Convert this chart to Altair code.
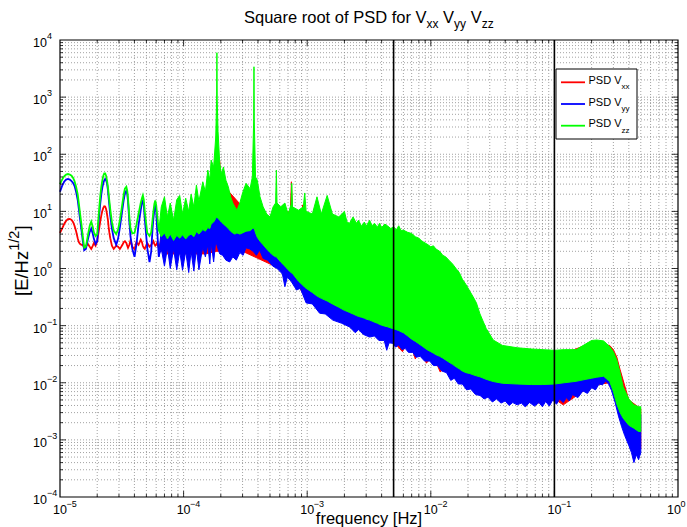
import altair as alt
import pandas as pd

W, H = 618, 457
FONT = "Liberation Sans"

# ---------------- data ----------------
# smooth low-frequency part (same frequencies for all three series)
s_f = [1.0e-5, 1.04e-5, 1.08e-5, 1.12e-5, 1.16e-5, 1.20e-5, 1.24e-5, 1.28e-5, 1.31e-5, 1.35e-5,
       1.39e-5, 1.42e-5, 1.45e-5, 1.49e-5, 1.53e-5, 1.57e-5, 1.62e-5, 1.68e-5, 1.74e-5, 1.79e-5,
       1.84e-5, 1.88e-5, 1.94e-5, 2.0e-5, 2.04e-5, 2.08e-5, 2.12e-5, 2.16e-5, 2.2e-5, 2.24e-5,
       2.28e-5, 2.32e-5, 2.36e-5, 2.40e-5, 2.44e-5, 2.47e-5, 2.51e-5, 2.55e-5, 2.63e-5, 2.72e-5,
       2.85e-5, 2.95e-5, 3.05e-5, 3.13e-5, 3.2e-5, 3.28e-5, 3.35e-5, 3.44e-5, 3.5e-5, 3.55e-5,
       3.64e-5, 3.72e-5, 3.85e-5, 4.01e-5, 4.15e-5, 4.32e-5, 4.5e-5, 4.6e-5, 4.68e-5, 4.76e-5,
       4.85e-5, 5.08e-5, 5.3e-5, 5.47e-5, 5.6e-5, 5.7e-5, 5.8e-5, 5.9e-5, 6.0e-5, 6.1e-5, 6.3e-5]
green_s = [30, 36, 41, 44, 45, 44, 42, 38, 34, 27,
           20, 14, 9.5, 6, 3.6, 2.3, 2.4, 3.8, 5.6, 6.6,
           5.4, 4.3, 3.7, 4.0, 7, 12, 19, 27, 35, 42,
           46, 46, 42, 35, 27, 21, 15, 11, 6.5, 4.6,
           4.0, 4.8, 7, 10, 14, 20, 25, 27, 23, 17,
           8, 5, 4.1, 4.2, 5.8, 9, 14, 17, 19, 16,
           10, 4.2, 3.7, 4.3, 7, 10, 13.5, 15.5, 13, 9, 4.5]
blue_s = [22, 28, 33, 36, 37, 36, 34, 31, 28, 22,
          16, 11, 7.5, 4.8, 3.0, 2.1, 2.2, 3.2, 4.4, 5.0,
          4.1, 3.3, 2.7, 3.0, 5.5, 9, 14, 20, 26, 31,
          35, 37, 35, 31, 24, 18, 12.5, 8.5, 5, 3.4,
          2.6, 3.3, 5.2, 7.8, 11, 16, 20.5, 23, 20, 15,
          6.5, 3.6, 2.2, 1.6, 2.6, 5.8, 10.5, 14, 16, 13,
          7.5, 2.3, 1.3, 2.0, 4.8, 7.5, 10.5, 13, 10.5, 5, 1.6]
red_s = [4.2, 5.0, 6.0, 6.8, 7.3, 7.4, 7.1, 6.4, 5.6, 4.5,
         3.4, 2.9, 2.7, 2.6, 2.6, 2.3, 2.5, 2.7, 2.4, 2.2,
         2.5, 2.8, 2.5, 3.0, 4.0, 5.2, 6.8, 8.5, 10.2, 11.5,
         12.3, 12.2, 11, 9, 7.2, 5.5, 4.2, 3.4, 2.5, 2.2,
         2.5, 2.4, 2.2, 2.4, 2.6, 2.9, 3.0, 2.8, 2.5, 2.3,
         2.6, 3.1, 2.4, 2.2, 2.9, 2.6, 3.2, 2.9, 2.5, 2.3,
         2.2, 2.8, 2.4, 2.6, 2.8, 3.0, 2.7, 2.5, 2.6, 2.8, 2.3]

# noisy part: envelopes (low / high) of the dense oscillations
g_f = [6.3e-5, 6.6e-5, 7.0e-5, 7.4e-5, 7.8e-5, 8.3e-5, 8.8e-5, 9.3e-5, 9.8e-5, 1.04e-4,
       1.10e-4, 1.15e-4, 1.21e-4, 1.27e-4, 1.33e-4, 1.43e-4, 1.50e-4, 1.57e-4, 1.63e-4, 1.67e-4,
       1.75e-4, 1.82e-4, 1.85e-4, 1.86e-4, 1.87e-4, 1.90e-4, 1.96e-4, 2.02e-4, 2.10e-4, 2.20e-4,
       2.30e-4, 2.40e-4, 2.50e-4, 2.60e-4, 2.70e-4, 2.85e-4, 3.0e-4, 3.2e-4, 3.45e-4, 3.6e-4,
       3.69e-4, 3.71e-4, 3.73e-4, 3.82e-4, 3.95e-4, 4.15e-4, 4.4e-4, 4.7e-4, 5.0e-4, 5.3e-4,
       5.55e-4, 5.63e-4, 5.7e-4, 6.1e-4, 6.6e-4, 7.0e-4, 7.4e-4, 7.5e-4, 7.6e-4, 8.5e-4,
       9.3e-4, 9.55e-4, 9.8e-4, 1.1e-3, 1.2e-3, 1.3e-3, 1.45e-3, 1.6e-3, 1.8e-3,
       2.0e-3, 2.1e-3, 2.2e-3, 2.35e-3, 2.5e-3, 2.6e-3, 2.75e-3, 2.9e-3, 3.0e-3, 3.2e-3,
       3.35e-3, 3.5e-3, 3.7e-3, 3.85e-3, 4.0e-3, 4.25e-3, 4.5e-3, 4.75e-3, 5.0e-3, 5.25e-3,
       5.5e-3, 5.75e-3, 6.0e-3, 6.5e-3, 7.0e-3, 7.5e-3, 8.0e-3, 8.5e-3, 9.0e-3, 9.5e-3,
       1.0e-2, 1.05e-2, 1.1e-2, 1.18e-2, 1.25e-2, 1.32e-2, 1.4e-2, 1.5e-2, 1.6e-2, 1.7e-2,
       1.8e-2, 1.93e-2, 2.07e-2, 2.2e-2, 2.34e-2,
       2.5e-2, 2.8e-2, 3.2e-2, 3.8e-2, 5.0e-2, 6.5e-2, 8.0e-2, 0.1, 0.12, 0.15,
       0.18, 0.2, 0.22, 0.25, 0.28, 0.30, 0.32, 0.34, 0.36, 0.40,
       0.44, 0.48, 0.5]
g_hi = [4.5, 12, 18, 8, 14, 7, 16, 19, 9, 17,
        10, 20, 12, 29, 15, 33, 22, 53, 35, 79,
        60, 200, 900, 6000, 900, 250, 70, 45, 60, 35,
        27, 18, 14, 12, 10.5, 14, 21, 31, 25, 40,
        400, 3400, 400, 40, 35, 18, 12, 9, 8, 12,
        14, 53, 14, 12, 14, 9, 13, 31, 12, 10.5,
        12, 21, 10, 9, 18, 9, 19, 9, 8,
        10, 6.5, 6.2, 8, 6.2, 7, 5.5, 6.5, 5.5, 7,
        5.6, 6.2, 5.3, 6.2, 5.2, 6, 5.5, 5, 5.4, 4.7,
        5.6, 4.6, 4.7, 4.3, 4.1, 3.6, 3.4, 3.0, 2.8, 2.6,
        2.4, 2.5, 2.2, 2.0, 1.7, 1.6, 1.4, 1.2, 1.0, 0.85,
        0.65, 0.52, 0.4, 0.32, 0.25,
        0.16, 0.09, 0.056, 0.045, 0.041, 0.039, 0.038, 0.037, 0.038, 0.038,
        0.048, 0.055, 0.056, 0.054, 0.043, 0.035, 0.025, 0.015, 0.0085, 0.0052,
        0.0041, 0.0038, 0.0038]
g_lo = [4.5, 3.6, 4.2, 3.3, 4.0, 3.1, 3.8, 3.4, 3.9, 3.3,
        3.8, 4.0, 3.6, 4.4, 4.0, 4.8, 4.5, 5.2, 5.0, 6.0,
        6.5, 7.5, 8, 8, 8, 7.5, 7, 6.5, 6, 5.5,
        5.0, 4.5, 4.2, 4.0, 4.2, 4.0, 4.2, 4.5, 4.6, 5.0,
        5.0, 5.0, 5.0, 4.2, 3.5, 3.0, 2.6, 2.2, 1.9, 1.7,
        1.6, 1.6, 1.55, 1.3, 1.1, 0.95, 0.85, 0.83, 0.82, 0.6,
        0.5, 0.47, 0.45, 0.38, 0.33, 0.3, 0.27, 0.24, 0.21,
        0.185, 0.178, 0.17, 0.16, 0.15, 0.145, 0.14, 0.135, 0.13, 0.125,
        0.12, 0.115, 0.11, 0.105, 0.102, 0.098, 0.095, 0.091, 0.088, 0.085,
        0.082, 0.078, 0.075, 0.066, 0.058, 0.053, 0.048, 0.044, 0.04, 0.037,
        0.035, 0.033, 0.031, 0.029, 0.027, 0.025, 0.023, 0.021, 0.019, 0.0175,
        0.016, 0.015, 0.0145, 0.0138, 0.0132,
        0.0127, 0.0115, 0.0105, 0.0098, 0.0095, 0.0093, 0.0093, 0.0095, 0.01, 0.0106,
        0.0115, 0.012, 0.0125, 0.013, 0.0105, 0.007, 0.0042, 0.003, 0.0024, 0.0018,
        0.0016, 0.0014, 0.0014]

b_f = [6.3e-5, 6.6e-5, 7.0e-5, 7.4e-5, 7.8e-5, 8.3e-5, 8.8e-5, 9.3e-5, 9.8e-5, 1.04e-4,
       1.10e-4, 1.15e-4, 1.21e-4, 1.27e-4, 1.33e-4, 1.43e-4, 1.50e-4, 1.57e-4, 1.63e-4, 1.67e-4,
       1.75e-4, 1.82e-4, 1.90e-4, 1.96e-4, 2.07e-4, 2.2e-4, 2.36e-4, 2.5e-4, 2.67e-4, 2.85e-4,
       3.03e-4, 3.2e-4, 3.42e-4, 3.65e-4, 3.88e-4, 4.12e-4, 4.4e-4, 4.8e-4, 5.27e-4, 5.7e-4,
       6.0e-4, 6.3e-4, 6.6e-4, 6.9e-4, 7.4e-4, 8.2e-4, 8.8e-4, 9.8e-4, 1.1e-3, 1.26e-3,
       1.4e-3, 1.61e-3, 1.9e-3,
       2.2e-3, 2.45e-3, 2.6e-3, 2.85e-3, 3.2e-3, 3.5e-3, 3.8e-3, 4.2e-3, 4.4e-3, 4.6e-3,
       4.9e-3, 5.2e-3, 5.5e-3, 5.85e-3, 6.2e-3, 6.6e-3, 7.15e-3, 7.6e-3, 8.2e-3, 8.9e-3,
       9.8e-3, 1.05e-2, 1.13e-2, 1.23e-2, 1.34e-2, 1.45e-2, 1.55e-2, 1.67e-2, 1.8e-2, 1.95e-2,
       2.1e-2, 2.3e-2, 2.5e-2, 2.7e-2, 2.9e-2, 3.15e-2, 3.4e-2, 3.7e-2, 4.0e-2, 4.3e-2,
       4.6e-2, 5.0e-2, 5.4e-2, 5.8e-2, 6.3e-2, 6.9e-2, 7.5e-2, 8.0e-2, 8.5e-2, 9.1e-2,
       9.7e-2, 0.104, 0.11, 0.118, 0.125, 0.132, 0.14, 0.155, 0.17, 0.185,
       0.2, 0.215, 0.23, 0.245, 0.26, 0.275, 0.29, 0.31, 0.33, 0.35,
       0.37, 0.40, 0.42, 0.44, 0.46, 0.48, 0.5]
b_lo = [1.6, 2.2, 1.1, 2.3, 1.0, 2.2, 0.95, 2.0, 0.93, 2.0,
        0.85, 2.0, 0.9, 2.2, 0.95, 2.4, 1.6, 2.6, 1.2, 2.8,
        1.3, 3.0, 2.2, 1.8, 1.7, 1.4, 1.3, 1.6, 1.4, 1.9,
        1.7, 2.3, 2.2, 2.0, 1.7, 2.1, 1.5, 1.4, 1.1, 1.0,
        0.9, 0.8, 0.48, 0.7, 0.6, 0.42, 0.45, 0.25, 0.24, 0.165,
        0.16, 0.125, 0.11,
        0.095, 0.075, 0.085, 0.07, 0.063, 0.066, 0.055, 0.055, 0.037, 0.05,
        0.049, 0.042, 0.046, 0.038, 0.04, 0.034, 0.034, 0.028, 0.029, 0.024,
        0.024, 0.02, 0.02, 0.016, 0.015, 0.011, 0.012, 0.0095, 0.0095, 0.0075,
        0.0078, 0.0062, 0.006, 0.0052, 0.0056, 0.0046, 0.0052, 0.0044, 0.0048, 0.004,
        0.0045, 0.0041, 0.0044, 0.0038, 0.0045, 0.0039, 0.0045, 0.0038, 0.0047, 0.0039,
        0.005, 0.0042, 0.0052, 0.0045, 0.0055, 0.0048, 0.0062, 0.0055, 0.0072, 0.0065,
        0.0082, 0.0075, 0.0095, 0.0092, 0.0106, 0.0095, 0.0073, 0.0045, 0.0026, 0.0017,
        0.0012, 0.0008, 0.0006, 0.0004, 0.00055, 0.00045, 0.0006]
b_hi = [1.6, 5, 8, 5, 8, 5, 9, 9, 6, 8,
        6, 10, 7, 12, 8, 15, 10, 20, 12, 30,
        25, 60, 60, 30, 25, 18, 12, 9, 8, 10,
        8, 9, 10, 12, 9, 6, 5, 4.5, 3.5, 3,
        2.6, 2.4, 2.2, 2.0, 1.7, 1.4, 1.2, 1.0, 0.8, 0.65,
        0.55, 0.5, 0.4,
        0.36, 0.33, 0.3, 0.28, 0.26, 0.24, 0.22, 0.21, 0.2, 0.2,
        0.19, 0.18, 0.17, 0.16, 0.15, 0.135, 0.12, 0.11, 0.1, 0.085,
        0.075, 0.068, 0.062, 0.056, 0.05, 0.045, 0.04, 0.037, 0.034, 0.032,
        0.03, 0.028, 0.026, 0.024, 0.023, 0.022, 0.021, 0.02, 0.02, 0.019,
        0.019, 0.019, 0.019, 0.019, 0.019, 0.019, 0.019, 0.019, 0.019, 0.019,
        0.02, 0.02, 0.021, 0.021, 0.022, 0.022, 0.023, 0.024, 0.025, 0.025,
        0.026, 0.027, 0.027, 0.027, 0.026, 0.022, 0.018, 0.012, 0.0075, 0.0055,
        0.0045, 0.0035, 0.0032, 0.003, 0.0029, 0.0028, 0.0028]

r_f = [6.3e-5, 7e-5, 1e-4, 1.5e-4, 1.86e-4, 1.93e-4, 1.96e-4, 1.99e-4, 2.05e-4, 3e-4,
       5e-4, 7.3e-4, 7.45e-4, 7.6e-4, 9.0e-4, 9.2e-4, 9.4e-4, 1.5e-3, 3e-3, 5e-3,
       5.9e-3, 6.3e-3, 6.8e-3, 7.5e-3, 7.9e-3, 8.4e-3, 9.2e-3, 1.05e-2, 1.19e-2, 1.3e-2,
       2e-2, 2.5e-2, 2.8e-2, 3.2e-2, 3.8e-2, 5e-2, 7.3e-2, 0.1, 0.118, 0.2,
       0.28, 0.30, 0.32, 0.34, 0.40, 0.5]
r_lo = [2.3, 1.8, 1.8, 1.8, 2.0, 2.0, 2.0, 2.0, 2.0, 2.0,
        1.2, 0.8, 0.8, 0.8, 0.4, 0.4, 0.4, 0.16, 0.075, 0.052,
        0.035, 0.045, 0.05, 0.026, 0.038, 0.04, 0.022, 0.03, 0.0155, 0.018,
        0.012, 0.009, 0.008, 0.007, 0.006, 0.0048, 0.0044, 0.0052, 0.0041, 0.009,
        0.01, 0.007, 0.004, 0.0025, 0.001, 0.0007]
r_hi = [2.3, 6, 8, 15, 40, 45, 75, 45, 30, 12,
        8, 10, 33, 10, 8, 13, 8, 7, 5, 4,
        3.5, 3.4, 3.2, 3.0, 2.9, 2.8, 2.5, 2.0, 1.5, 1.2,
        0.3, 0.1, 0.06, 0.04, 0.032, 0.03, 0.03, 0.03, 0.032, 0.05,
        0.045, 0.038, 0.028, 0.017, 0.005, 0.0035]

v_lines = [5e-3, 1e-1]
x_exp = [-5, -4, -3, -2, -1, 0]
y_exp = [-4, -3, -2, -1, 0, 1, 2, 3, 4]
series_names = ["xx", "yy", "zz"]
series_colors = ["#ff0000", "#0000ff", "#00ff00"]

# ---------------- helpers ----------------
x_major = [10.0 ** e for e in x_exp]
y_major = [10.0 ** e for e in y_exp]
x_minor = [k * 10.0 ** e for e in x_exp[:-1] for k in range(2, 10)]
y_minor = [k * 10.0 ** e for e in y_exp[:-1] for k in range(2, 10)]

xs = alt.Scale(type="log", domain=[1e-5, 1], nice=False)
ys = alt.Scale(type="log", domain=[1e-4, 1e4], nice=False)


def X(field):
    return alt.X(f"{field}:Q", scale=xs, axis=None)


def Y(field):
    return alt.Y(f"{field}:Q", scale=ys, axis=None)


def label(s, x, y, size, align="left", angle=0, color="black"):
    kw = dict(font=FONT, fontSize=size, align=align, baseline="middle", color=color)
    if angle:
        kw["angle"] = angle
    return alt.Chart(pd.DataFrame({"s": [s]})).mark_text(**kw).encode(
        x=alt.value(x), y=alt.value(y), text="s:N")


layers = []

# grid (dotted, major + minor)
gx = pd.DataFrame({"f": [v for v in x_major + x_minor if 1e-5 < v < 1]})
gy = pd.DataFrame({"v": [v for v in y_major + y_minor if 1e-4 < v < 1e4]})
grid_style = dict(color="#8a8a8a", strokeDash=[1, 2], strokeWidth=0.8)
layers.append(alt.Chart(gx).mark_rule(**grid_style).encode(x=X("f")))
layers.append(alt.Chart(gy).mark_rule(**grid_style).encode(y=Y("v")))

# series: red, blue, green (green on top)
smooth = pd.DataFrame({"f": s_f, "red": red_s, "blue": blue_s, "green": green_s})
bands = [
    (pd.DataFrame({"f": r_f, "lo": r_lo, "hi": r_hi}), "red", series_colors[0]),
    (pd.DataFrame({"f": b_f, "lo": b_lo, "hi": b_hi}), "blue", series_colors[1]),
    (pd.DataFrame({"f": g_f, "lo": g_lo, "hi": g_hi}), "green", series_colors[2]),
]
for df, name, col in bands:
    layers.append(alt.Chart(smooth).mark_line(color=col, strokeWidth=1.8).encode(
        x=X("f"), y=Y(name)))
    layers.append(alt.Chart(df).mark_area(color=col, stroke=col, strokeWidth=1,
                                          opacity=1).encode(
        x=X("f"), y=Y("lo"), y2=alt.Y2("hi:Q")))

# vertical black lines
layers.append(alt.Chart(pd.DataFrame({"f": v_lines})).mark_rule(
    color="black", strokeWidth=1.6).encode(x=X("f")))

# inward ticks on all four sides
for vals, ln in ((x_major, 6), (x_minor, 3)):
    d = pd.DataFrame({"f": [v for v in vals if 1e-5 < v < 1]})
    layers.append(alt.Chart(d).mark_rule(color="black", strokeWidth=0.8).encode(
        x=X("f"), y=alt.value(H), y2=alt.value(H - ln)))
    layers.append(alt.Chart(d).mark_rule(color="black", strokeWidth=0.8).encode(
        x=X("f"), y=alt.value(0), y2=alt.value(ln)))
for vals, ln in ((y_major, 6), (y_minor, 3)):
    d = pd.DataFrame({"v": [v for v in vals if 1e-4 < v < 1e4]})
    layers.append(alt.Chart(d).mark_rule(color="black", strokeWidth=0.8).encode(
        y=Y("v"), x=alt.value(0), x2=alt.value(ln)))
    layers.append(alt.Chart(d).mark_rule(color="black", strokeWidth=0.8).encode(
        y=Y("v"), x=alt.value(W), x2=alt.value(W - ln)))

# frame
layers.append(alt.Chart(pd.DataFrame({"a": [0]})).mark_rect(
    fill=None, filled=False, stroke="black", strokeWidth=1.2).encode(
    x=alt.value(0), x2=alt.value(W), y=alt.value(0), y2=alt.value(H)))

# tick labels  10^e  (the last x label is nudged left so it stays inside the page)
exp_txt = [str(e).replace("-", "\u2212") for e in x_exp]
for sub, shift in ((slice(0, -1), 0), (slice(-1, None), -4)):
    xl = pd.DataFrame({"f": x_major[sub], "e": exp_txt[sub]})
    layers.append(alt.Chart(xl).mark_text(text="10", font=FONT, fontSize=12.5, align="center",
                                          baseline="middle", dx=shift).encode(
        x=X("f"), y=alt.value(H + 13)))
    layers.append(alt.Chart(xl).mark_text(font=FONT, fontSize=9, align="left",
                                          baseline="middle", dx=6.5 + shift).encode(
        x=X("f"), y=alt.value(H + 7), text="e:N"))
yl = pd.DataFrame({"v": y_major, "e": [str(e).replace("-", "\u2212") for e in y_exp]})
layers.append(alt.Chart(yl).mark_text(text="10", font=FONT, fontSize=12.5, align="right",
                                      baseline="middle", dy=3).encode(x=alt.value(-13), y=Y("v")))
layers.append(alt.Chart(yl).mark_text(font=FONT, fontSize=9, align="left", baseline="middle",
                                      dy=-4).encode(x=alt.value(-13), y=Y("v"), text="e:N"))

# title with subscripts
layers += [
    label("Square root of PSD for V", 366.5, -22, 16.5, align="right"),
    label("xx", 366.5, -16, 12),
    label("V", 383, -22, 16.5),
    label("yy", 394, -16, 12),
    label("V", 410.7, -22, 16.5),
    label("zz", 421.7, -16, 12),
]

# axis titles
layers.append(label("frequency [Hz]", W / 2, H + 22, 16.5, align="center"))
layers += [
    label("[E/Hz", -38, 256, 18.5, angle=270),
    label("1/2", -45, 210.8, 14.5, angle=270),
    label("]", -38, 190.6, 18.5, angle=270),
]

# legend (manual, for subscripts)
layers.append(alt.Chart(pd.DataFrame({"a": [0]})).mark_rect(
    fill="white", stroke="black", strokeWidth=1).encode(
    x=alt.value(496), x2=alt.value(577), y=alt.value(29), y2=alt.value(99)))
for i, (nm, col) in enumerate(zip(series_names, series_colors)):
    yy = 42.3 + i * 21.7
    layers.append(alt.Chart(pd.DataFrame({"a": [0]})).mark_rule(
        color=col, strokeWidth=1.8).encode(
        x=alt.value(501), x2=alt.value(525), y=alt.value(yy)))
    layers.append(label("PSD V", 528.5, yy - 1.5, 11))
    layers.append(label(nm, 561.5, yy + 5, 8))

chart = alt.layer(*layers).properties(
    width=W, height=H,
    autosize=alt.AutoSizeParams(type="none"),
    padding={"left": 60, "top": 40, "right": 9, "bottom": 30},
    background="white",
).configure_view(strokeWidth=0)

chart.save("out.html", embed_options={"renderer": "svg", "actions": False})
